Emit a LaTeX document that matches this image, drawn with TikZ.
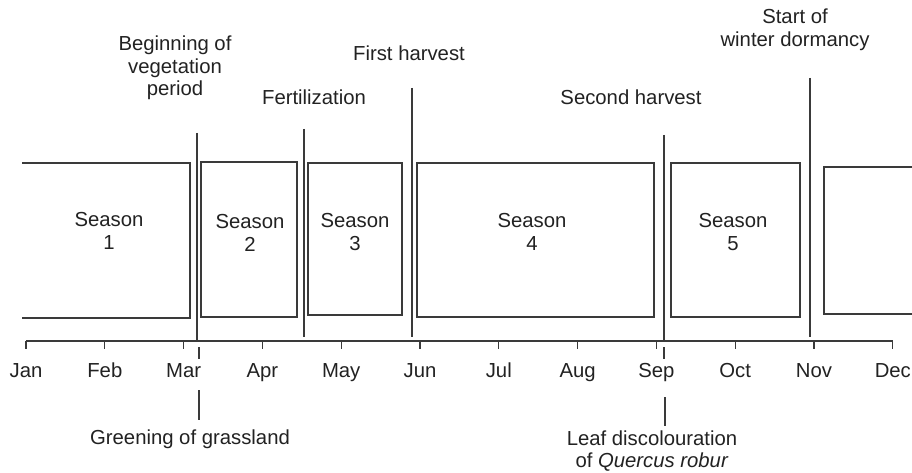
\documentclass[tikz,border=0pt]{standalone}
\usepackage{fontspec}
\setmainfont{Liberation Sans}
\definecolor{ln}{HTML}{3A3A3A}
\definecolor{tx}{HTML}{222222}
\tikzset{
  lbl/.style={text=tx, font=\fontsize{20.3}{22.5}\selectfont, align=center, inner sep=0pt},
  mon/.style={lbl, anchor=base},
  seasonbox/.style={draw=ln, line width=1.3pt},
  eventline/.style={draw=ln, line width=1.3pt},
  axisline/.style={draw=ln, line width=1.3pt},
}
\begin{document}
\begin{tikzpicture}[x=1pt,y=-1pt]
\useasboundingbox (0,0) rectangle (912,473);
\fill[white] (0,0) rectangle (912,473);

% season boxes
\draw[seasonbox] (22,163) -- (190,163) -- (190,318) -- (22,318);
\draw[seasonbox] (201,162) rectangle (297,317);
\draw[seasonbox] (308,163) rectangle (402,315);
\draw[seasonbox] (417,163) rectangle (654,317);
\draw[seasonbox] (671,163) rectangle (800,317);
\draw[seasonbox] (914,167) -- (824,167) -- (824,314) -- (914,314);

\node[lbl] (s1) at (109,231) {Season\\1};
\node[lbl] (s2) at (250,233) {Season\\2};
\node[lbl] (s3) at (355,232) {Season\\3};
\node[lbl] (s4) at (532,232) {Season\\4};
\node[lbl] (s5) at (733,232) {Season\\5};

% axis
\coordinate (ax0) at (26,341);
\coordinate (ax1) at (893,341);
\draw[axisline] (ax0) -- (ax1);
\foreach \m [count=\i from 0] in {Jan,Feb,Mar,Apr,May,Jun,Jul,Aug,Sep,Oct,Nov,Dec} {
  \pgfmathsetmacro{\xx}{26+\i*78.8}
  \coordinate (t\i) at (\xx,341);
  \coordinate (tb\i) at (\xx,349);
  \draw[axisline] (t\i) -- (tb\i);
  \node[mon] (m\i) at (\xx,377) {\m};
}

% event lines (top)
\coordinate (aT) at (197,133); \coordinate (aB) at (197,341);
\coordinate (bT) at (304,129); \coordinate (bB) at (304,337);
\coordinate (cT) at (412,88);  \coordinate (cB) at (412,337);
\coordinate (dT) at (664,135); \coordinate (dB) at (664,341);
\coordinate (eT) at (810,78);  \coordinate (eB) at (810,337);
\draw[eventline] (aT) -- (aB);
\draw[eventline] (bT) -- (bB);
\draw[eventline] (cT) -- (cB);
\draw[eventline] (dT) -- (dB);
\draw[eventline] (eT) -- (eB);

\node[lbl] (beg) at (175,68) {Beginning of\\vegetation\\period};
\node[lbl] (fert) at (314,97) {Fertilization};
\node[lbl] (fh) at (409,53) {First harvest};
\node[lbl] (sh) at (631,97) {Second harvest};
\node[lbl] (wd) at (795,30) {Start of\\winter dormancy};

% event lines (bottom)
\coordinate (gA) at (199,347); \coordinate (gB) at (199,359);
\coordinate (gC) at (199,390); \coordinate (gD) at (199,420);
\draw[eventline] (gA) -- (gB);
\draw[eventline] (gC) -- (gD);
\node[lbl] (green) at (190,439) {Greening of grassland};

\coordinate (lA) at (664,347); \coordinate (lB) at (664,359);
\coordinate (lC) at (665,397); \coordinate (lD) at (665,426);
\draw[eventline] (lA) -- (lB);
\draw[eventline] (lC) -- (lD);
\node[lbl] (leaf) at (652,451) {Leaf discolouration\\of \textit{Quercus robur}};
\end{tikzpicture}
\end{document}
